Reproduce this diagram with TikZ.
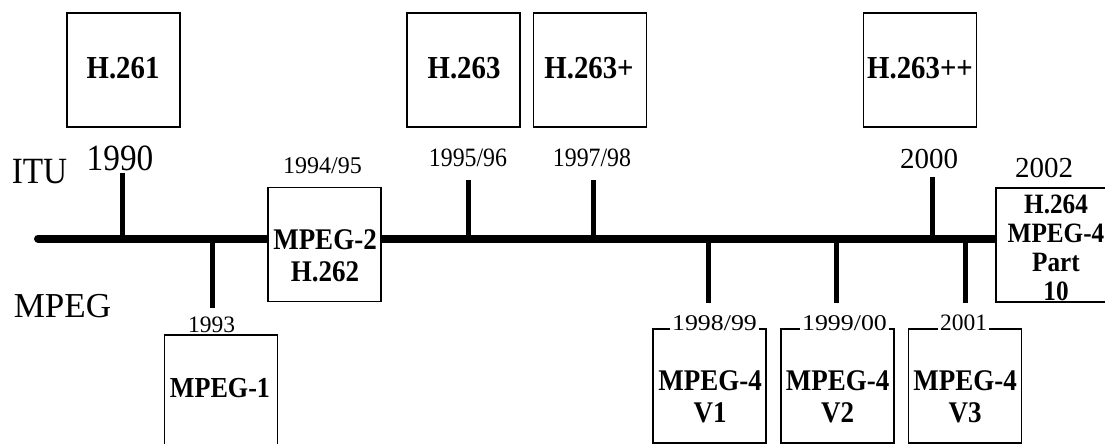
\documentclass[tikz,border=0pt]{standalone}
\usepackage{fontspec}
\setmainfont{Liberation Serif}
\newfontfamily\fN[FakeStretch=0.9]{Liberation Serif}
\newfontfamily\fW[FakeStretch=1.15]{Liberation Serif}
\begin{document}
\begin{tikzpicture}[x=1pt,y=-1pt,
  box/.style={draw,line width=1.3pt,fill=white,minimum width=113pt,minimum height=114pt,inner sep=0pt},
  blab/.style={font=\fN\fontsize{32}{34}\selectfont\bfseries,inner sep=0pt,anchor=base},
  blab2/.style={font=\fN\fontsize{30}{31.5}\selectfont\bfseries,inner sep=0pt,align=center},
  yr/.style={font=\fontsize{24}{26}\selectfont,inner sep=0pt,anchor=base},
  yrl/.style={font=\fW\fontsize{22.5}{24}\selectfont,fill=white,inner xsep=2pt,inner ysep=2pt,anchor=base},
  big/.style={font=\fN\fontsize{37}{40}\selectfont,inner sep=0pt,anchor=base},
  axis/.style={line width=8pt,line cap=round},
  tick/.style={line width=5pt}]
\useasboundingbox (0,0) rectangle (1105,444);

% timeline
\coordinate (L) at (38,238.5);
\coordinate (R) at (1000,238.5);
\draw[axis] (L) -- (R);

% ticks
\coordinate (t90) at (122,173);   \coordinate (b90) at (122,238.5);
\coordinate (t95) at (468,180);   \coordinate (b95) at (468,238.5);
\coordinate (t97) at (593,180);   \coordinate (b97) at (593,238.5);
\coordinate (t00) at (932,177);   \coordinate (b00) at (932,238.5);
\coordinate (t93) at (212,238.5); \coordinate (e93) at (212,308);
\coordinate (t98) at (708,238.5); \coordinate (e98) at (708,303);
\coordinate (t99) at (836,238.5); \coordinate (e99) at (836,303);
\coordinate (t01) at (965,238.5); \coordinate (e01) at (965,303);
\draw[tick] (t90) -- (b90);
\draw[tick] (t95) -- (b95);
\draw[tick] (t97) -- (b97);
\draw[tick] (t00) -- (b00);
\draw[tick] (t93) -- (e93);
\draw[tick] (t98) -- (e98);
\draw[tick] (t99) -- (e99);
\draw[tick] (t01) -- (e01);

% boxes
\node[box] (h261) at (123.5,70) {};
\node[box] (h263) at (463.5,70) {};
\node[box] (h263p) at (590,70) {};
\node[box] (h263pp) at (920,70) {};
\node[box] (m2) at (324.5,244.5) {};
\node[box] (m1) at (221,392) {};
\node[box] (v1) at (709.5,386) {};
\node[box] (v2) at (837.5,386) {};
\node[box] (v3) at (965,386) {};
\node[box,minimum width=114pt] (h264) at (1053,245) {};

% box labels
\node[blab] (lh261) at (123,78) {H.261};
\node[blab] (lh263) at (464,78) {H.263};
\node[blab] (lh263p) at (589,78) {H.263+};
\node[blab] (lh263pp) at (920,78) {H.263++};
\node[blab2] (lm2) at (325,256) {MPEG-2\\H.262};
\node[blab,font=\fN\fontsize{29}{31}\selectfont\bfseries] (lm1) at (220,397) {MPEG-1};
\node[blab2] (lv1) at (710,397) {MPEG-4\\V1};
\node[blab2] (lv2) at (837.5,397) {MPEG-4\\V2};
\node[blab2] (lv3) at (965,397) {MPEG-4\\V3};
\node[blab2,font=\fN\fontsize{28}{29}\selectfont\bfseries] (lh264) at (1056,248) {H.264\\MPEG-4\\Part\\10};

% side labels
\node[big] (itu) at (39.5,183) {ITU};
\node[big,font=\fontsize{35}{38}\selectfont] (mpeg) at (62.5,317) {MPEG};

% years
\node[big] (y1990) at (120,170) {1990};
\node[yr] (y9495) at (322.5,173) {1994/95};
\node[yr,font=\fN\fontsize{26.5}{28}\selectfont] (y9596) at (468,166) {1995/96};
\node[yr,font=\fN\fontsize{26.5}{28}\selectfont] (y9798) at (592,166) {1997/98};
\node[yr,font=\fontsize{29}{32}\selectfont] (y2000) at (929,168) {2000};
\node[yr,font=\fontsize{29}{32}\selectfont] (y2002) at (1044,177) {2002};
\node[yrl,font=\fontsize{23.5}{26}\selectfont] (y1993) at (211.5,332) {1993};
\node[yrl] (y9899) at (714.5,330) {1998/99};
\node[yrl] (y9900) at (844.5,330) {1999/00};
\node[yrl,font=\fontsize{23.5}{26}\selectfont] (y2001) at (963.5,330) {2001};
\end{tikzpicture}
\end{document}
